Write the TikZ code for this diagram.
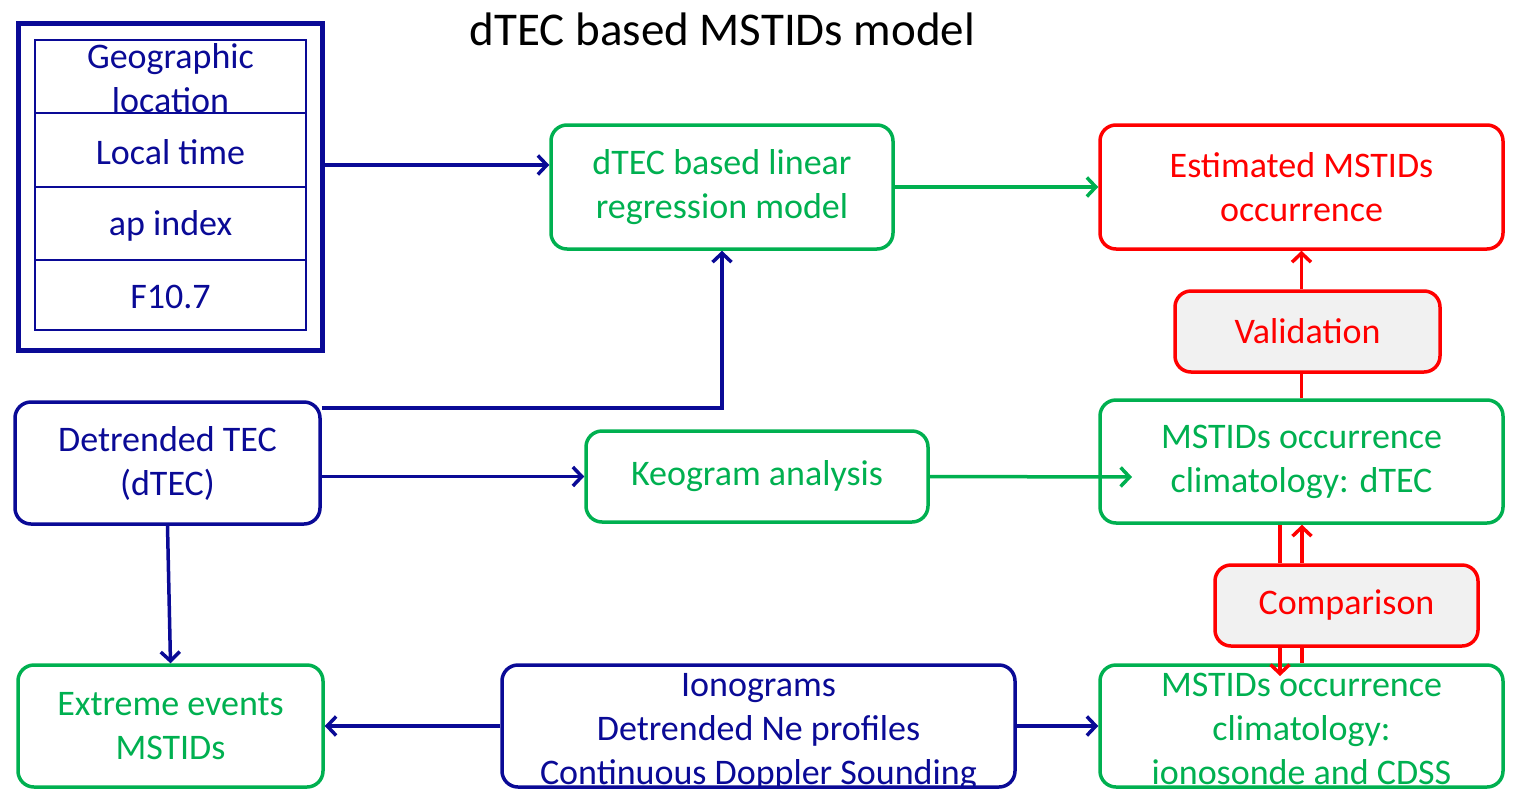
\documentclass[tikz,border=0pt]{standalone}
\usepackage{fontspec}
\setmainfont{Carlito}
\usetikzlibrary{arrows.meta}
\definecolor{dblue}{RGB}{10,10,150}
\definecolor{dgreen}{RGB}{0,176,80}
\definecolor{dred}{RGB}{255,0,0}
\definecolor{lgray}{RGB}{241,241,241}
\tikzset{
	flowbox/.style={draw, rounded corners=16pt, line width=3.5pt, align=center, inner sep=0pt, font=\fontsize{36}{44}\selectfont},
	gbox/.style={flowbox, draw=dgreen, text=dgreen},
	bbox/.style={flowbox, draw=dblue, text=dblue},
	rbox/.style={flowbox, draw=dred, text=dred, fill=lgray},
	gtxt/.style={text=dgreen, align=center, font=\fontsize{36}{44}\selectfont},
	btxt/.style={text=dblue, align=center, font=\fontsize{36}{44}\selectfont},
	link/.style={line width=3.5pt, -{Straight Barb[length=9pt,width=19pt]}},
	barrow/.style={link, dblue},
	garrow/.style={link, dgreen},
	rarrow/.style={link, dred},
	rline/.style={line width=3.5pt, dred}
}
\begin{document}
\begin{tikzpicture}[x=1pt, y=-1pt]
	\useasboundingbox (0,0) rectangle (1516,788);
	\node[font=\fontsize{47}{56}\selectfont] (title) at (722.5,29) {dTEC based MSTIDs model};
	\node[draw=dblue, line width=5pt, minimum width=304, minimum height=327, inner sep=0pt] (inputs) at (170,186.5) {};
	\draw[dblue, line width=1.5pt] (35,40) rectangle (306,330);
	\draw[dblue, line width=1.5pt] (35,113) -- (306,113) (35,187) -- (306,187) (35,260) -- (306,260);
	\node[btxt] (geo) at (170.5,78) {Geographic\\location};
	\node[btxt] (ltime) at (170.5,152) {Local time};
	\node[btxt] (ap) at (170.5,226) {ap index};
	\node[btxt] (f107) at (170.5,297) {F10.7};
	\node[gbox, minimum width=342, minimum height=124] (lin-model) at (722,187) {dTEC based linear\\regression model};
	\node[rbox, fill=none, minimum width=403, minimum height=124] (est-occ) at (1301.5,187) {Estimated MSTIDs\\occurrence};
	\node[rbox, minimum width=265, minimum height=81] (valid) at (1307.5,331.5) {Validation};
	\node[bbox, minimum width=305, minimum height=122] (dtec) at (167.5,463) {Detrended TEC\\(dTEC)};
	\node[gbox, minimum width=342, minimum height=91] (keogram) at (757,476.5) {Keogram analysis};
	\node[gbox, minimum width=403, minimum height=123] (clim-dtec) at (1301.5,461.5) {MSTIDs occurrence\\climatology: dTEC};
	\node[rbox, minimum width=263, minimum height=81] (compar) at (1346.5,605.5) {Comparison};
	\node[gbox, minimum width=305, minimum height=122] (extreme) at (170.5,726) {Extreme events\\MSTIDs};
	\node[bbox, minimum width=513, minimum height=122,
		label={[btxt, yshift=-6pt]center:Ionograms\\Detrended Ne profiles\\Continuous Doppler Sounding}] (iono) at (758.5,726) {};
	\node[gbox, minimum width=403, minimum height=122,
		label={[gtxt, yshift=-3pt]center:MSTIDs occurrence\\climatology:\\ionosonde and CDSS}] (clim-iono) at (1301.5,726) {};
	\coordinate (keo-end) at (1132,477);
	\coordinate (comp-end) at (1280,676);
	\draw[barrow] (inputs.east |- 0,165) -- (lin-model.west |- 0,165);
	\draw[garrow] (lin-model) -- (est-occ);
	\draw[barrow] (dtec.east |- 0,408) -| (lin-model.south);
	\draw[barrow] (dtec.east |- keogram.west) -- (keogram.west);
	\draw[garrow] (keogram.east) -- (keo-end);
	\draw[rline] (clim-dtec.north) -- (clim-dtec.north |- valid.south);
	\draw[rarrow] (valid.north -| est-occ.south) -- (est-occ.south);
	\draw[rline] (clim-dtec.south -| 1280,0) -- (compar.north -| 1280,0);
	\draw[rarrow] (compar.south -| 1280,0) -- (comp-end);
	\draw[rline] (clim-iono.north -| 1302,0) -- (compar.south -| 1302,0);
	\draw[rarrow] (compar.north -| 1302,0) -- (clim-dtec.south -| 1302,0);
	\draw[barrow] (dtec.south) -- (extreme.north);
	\draw[barrow] (iono) -- (extreme);
	\draw[barrow] (iono) -- (clim-iono);
\end{tikzpicture}
\end{document}
